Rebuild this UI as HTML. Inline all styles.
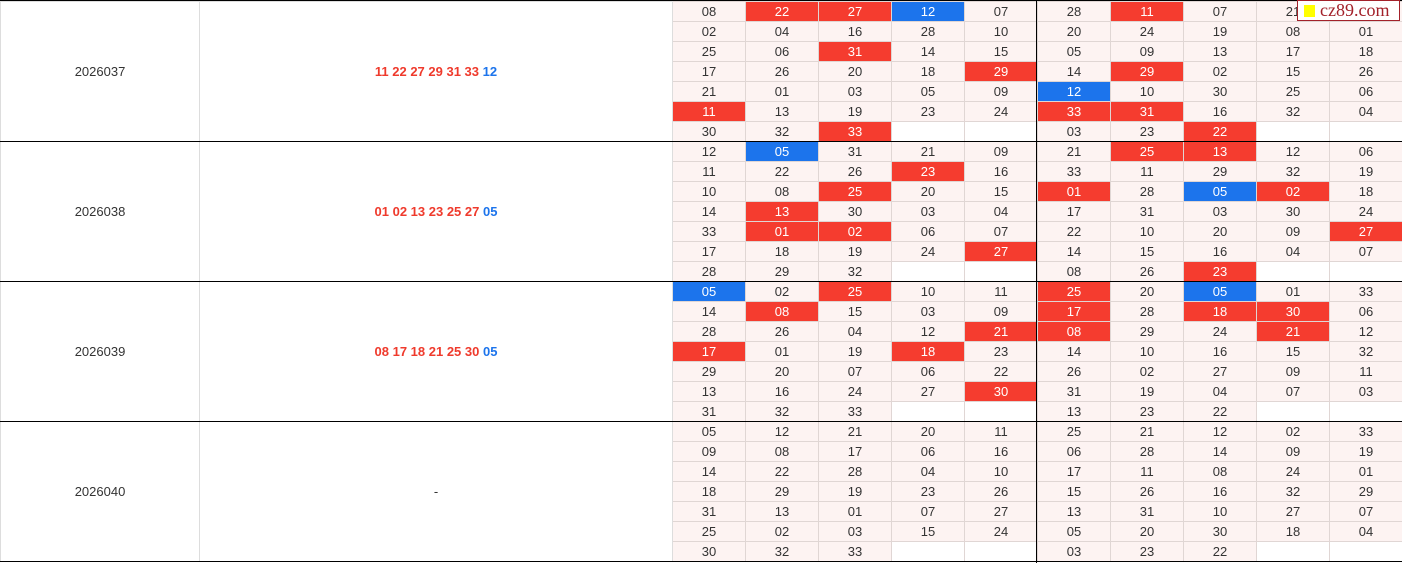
<!DOCTYPE html>
<html><head><meta charset="utf-8"><style>
body{margin:0;width:1402px;height:563px;overflow:hidden;background:#fff;font-family:"Liberation Sans",sans-serif;position:relative;}
table{border-collapse:collapse;table-layout:fixed;width:1402px;position:absolute;left:0;top:1px;}
td{border:1px solid #e0d6d4;height:19px;padding:0;text-align:center;font-size:13px;color:#333;background:#fdf3f2;line-height:19px;}
td.l{background:#fff;border-color:#ddd;}
td.r{background:#f53c2f;color:#fff;}
td.b{background:#1c74ec;color:#fff;}
td.e{background:#fff;}
.R{color:#ef3a2c;font-weight:bold;}.B{color:#1c74ec;font-weight:bold;}
.h{position:absolute;left:0;width:1402px;height:1px;background:#000;}
.v{position:absolute;left:1036px;top:0;width:1px;height:563px;background:#000;}
#logo{position:absolute;left:1297px;top:0;width:103px;height:21px;background:#fff;border:1px solid #a3212a;box-sizing:border-box;font-family:"Liberation Serif",serif;font-size:18px;color:#a3212a;line-height:19px;padding-left:22px;}
#logo i{position:absolute;left:6px;top:4px;width:11px;height:12px;background:#ff0;}
</style></head><body>
<table>
<colgroup><col style="width:199px"><col style="width:473px"><col span="10" style="width:73px"></colgroup>
<tr><td class="l" rowspan="7">2026037</td><td class="l" rowspan="7"><span class="R">11 22 27 29 31 33</span> <span class="B">12</span></td><td>08</td><td class="r">22</td><td class="r">27</td><td class="b">12</td><td>07</td><td>28</td><td class="r">11</td><td>07</td><td>21</td><td>09</td></tr>
<tr><td>02</td><td>04</td><td>16</td><td>28</td><td>10</td><td>20</td><td>24</td><td>19</td><td>08</td><td>01</td></tr>
<tr><td>25</td><td>06</td><td class="r">31</td><td>14</td><td>15</td><td>05</td><td>09</td><td>13</td><td>17</td><td>18</td></tr>
<tr><td>17</td><td>26</td><td>20</td><td>18</td><td class="r">29</td><td>14</td><td class="r">29</td><td>02</td><td>15</td><td>26</td></tr>
<tr><td>21</td><td>01</td><td>03</td><td>05</td><td>09</td><td class="b">12</td><td>10</td><td>30</td><td>25</td><td>06</td></tr>
<tr><td class="r">11</td><td>13</td><td>19</td><td>23</td><td>24</td><td class="r">33</td><td class="r">31</td><td>16</td><td>32</td><td>04</td></tr>
<tr><td>30</td><td>32</td><td class="r">33</td><td class="e"></td><td class="e"></td><td>03</td><td>23</td><td class="r">22</td><td class="e"></td><td class="e"></td></tr>

<tr><td class="l" rowspan="7">2026038</td><td class="l" rowspan="7"><span class="R">01 02 13 23 25 27</span> <span class="B">05</span></td><td>12</td><td class="b">05</td><td>31</td><td>21</td><td>09</td><td>21</td><td class="r">25</td><td class="r">13</td><td>12</td><td>06</td></tr>
<tr><td>11</td><td>22</td><td>26</td><td class="r">23</td><td>16</td><td>33</td><td>11</td><td>29</td><td>32</td><td>19</td></tr>
<tr><td>10</td><td>08</td><td class="r">25</td><td>20</td><td>15</td><td class="r">01</td><td>28</td><td class="b">05</td><td class="r">02</td><td>18</td></tr>
<tr><td>14</td><td class="r">13</td><td>30</td><td>03</td><td>04</td><td>17</td><td>31</td><td>03</td><td>30</td><td>24</td></tr>
<tr><td>33</td><td class="r">01</td><td class="r">02</td><td>06</td><td>07</td><td>22</td><td>10</td><td>20</td><td>09</td><td class="r">27</td></tr>
<tr><td>17</td><td>18</td><td>19</td><td>24</td><td class="r">27</td><td>14</td><td>15</td><td>16</td><td>04</td><td>07</td></tr>
<tr><td>28</td><td>29</td><td>32</td><td class="e"></td><td class="e"></td><td>08</td><td>26</td><td class="r">23</td><td class="e"></td><td class="e"></td></tr>

<tr><td class="l" rowspan="7">2026039</td><td class="l" rowspan="7"><span class="R">08 17 18 21 25 30</span> <span class="B">05</span></td><td class="b">05</td><td>02</td><td class="r">25</td><td>10</td><td>11</td><td class="r">25</td><td>20</td><td class="b">05</td><td>01</td><td>33</td></tr>
<tr><td>14</td><td class="r">08</td><td>15</td><td>03</td><td>09</td><td class="r">17</td><td>28</td><td class="r">18</td><td class="r">30</td><td>06</td></tr>
<tr><td>28</td><td>26</td><td>04</td><td>12</td><td class="r">21</td><td class="r">08</td><td>29</td><td>24</td><td class="r">21</td><td>12</td></tr>
<tr><td class="r">17</td><td>01</td><td>19</td><td class="r">18</td><td>23</td><td>14</td><td>10</td><td>16</td><td>15</td><td>32</td></tr>
<tr><td>29</td><td>20</td><td>07</td><td>06</td><td>22</td><td>26</td><td>02</td><td>27</td><td>09</td><td>11</td></tr>
<tr><td>13</td><td>16</td><td>24</td><td>27</td><td class="r">30</td><td>31</td><td>19</td><td>04</td><td>07</td><td>03</td></tr>
<tr><td>31</td><td>32</td><td>33</td><td class="e"></td><td class="e"></td><td>13</td><td>23</td><td>22</td><td class="e"></td><td class="e"></td></tr>

<tr><td class="l" rowspan="7">2026040</td><td class="l" rowspan="7">-</td><td>05</td><td>12</td><td>21</td><td>20</td><td>11</td><td>25</td><td>21</td><td>12</td><td>02</td><td>33</td></tr>
<tr><td>09</td><td>08</td><td>17</td><td>06</td><td>16</td><td>06</td><td>28</td><td>14</td><td>09</td><td>19</td></tr>
<tr><td>14</td><td>22</td><td>28</td><td>04</td><td>10</td><td>17</td><td>11</td><td>08</td><td>24</td><td>01</td></tr>
<tr><td>18</td><td>29</td><td>19</td><td>23</td><td>26</td><td>15</td><td>26</td><td>16</td><td>32</td><td>29</td></tr>
<tr><td>31</td><td>13</td><td>01</td><td>07</td><td>27</td><td>13</td><td>31</td><td>10</td><td>27</td><td>07</td></tr>
<tr><td>25</td><td>02</td><td>03</td><td>15</td><td>24</td><td>05</td><td>20</td><td>30</td><td>18</td><td>04</td></tr>
<tr><td>30</td><td>32</td><td>33</td><td class="e"></td><td class="e"></td><td>03</td><td>23</td><td>22</td><td class="e"></td><td class="e"></td></tr>
</table>
<div class="h" style="top:0"></div>
<div class="h" style="top:141px"></div>
<div class="h" style="top:281px"></div>
<div class="h" style="top:421px"></div>
<div class="h" style="top:561px"></div>
<div class="v"></div>
<div id="logo"><i></i>cz89.com</div>
</body></html>
